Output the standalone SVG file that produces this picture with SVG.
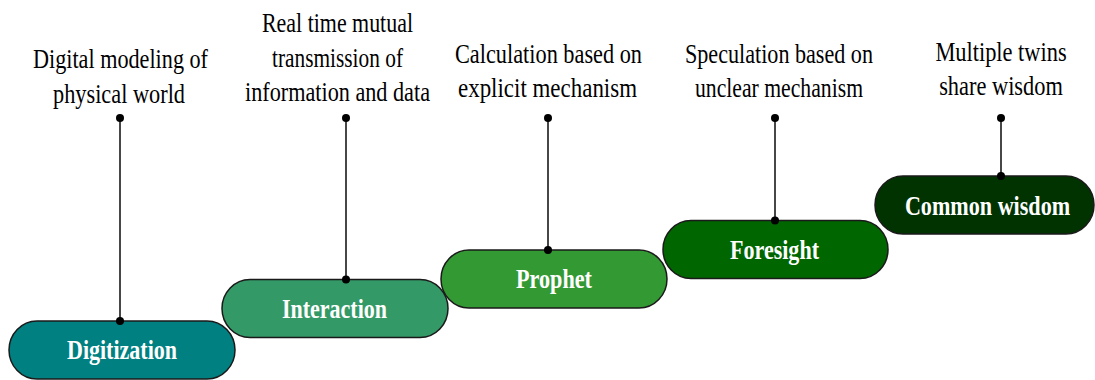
<svg xmlns="http://www.w3.org/2000/svg" width="1095" height="380" viewBox="0 0 1095 380">
  <style>
    text { font-family: "Liberation Serif", "Times New Roman", serif; font-size: 28px; text-anchor: middle; }
    .cap { fill: #000; }
    .lbl { font-weight: bold; fill: #fff; }
    .pill { stroke: #1a1a1a; stroke-width: 1.5; }
    .link { stroke: #333; stroke-width: 1.8; fill: none; }
    .dot { fill: #000; }
  </style>

  <!-- captions above each stage -->
  <g id="captions">
    <text class="cap" x="120.5" y="68" textLength="175" lengthAdjust="spacingAndGlyphs">Digital modeling of</text>
    <text class="cap" x="119" y="103" textLength="132" lengthAdjust="spacingAndGlyphs">physical world</text>

    <text class="cap" x="337.5" y="32" textLength="151" lengthAdjust="spacingAndGlyphs">Real time mutual</text>
    <text class="cap" x="337.5" y="67" textLength="131" lengthAdjust="spacingAndGlyphs">transmission of</text>
    <text class="cap" x="337.5" y="101" textLength="185" lengthAdjust="spacingAndGlyphs">information and data</text>

    <text class="cap" x="548.5" y="63" textLength="187" lengthAdjust="spacingAndGlyphs">Calculation based on</text>
    <text class="cap" x="547.5" y="97" textLength="179" lengthAdjust="spacingAndGlyphs">explicit mechanism</text>

    <text class="cap" x="779" y="63" textLength="188" lengthAdjust="spacingAndGlyphs">Speculation based on</text>
    <text class="cap" x="779" y="97" textLength="168" lengthAdjust="spacingAndGlyphs">unclear mechanism</text>

    <!-- narrowed with a horizontal scale so the lines stay clear of the right edge -->
    <text class="cap" transform="translate(1001 61) scale(0.8 1)">Multiple twins</text>
    <text class="cap" transform="translate(1001 95) scale(0.8 1)">share wisdom</text>
  </g>

  <!-- stage pills, later stages drawn on top -->
  <g id="node-digitization">
    <rect class="pill" x="9" y="321" width="226" height="58" rx="28" ry="29" fill="#008080"/>
    <text class="lbl" x="122" y="359" textLength="110" lengthAdjust="spacingAndGlyphs">Digitization</text>
  </g>
  <g id="node-interaction">
    <rect class="pill" x="222" y="279.5" width="226" height="58" rx="28" ry="29" fill="#339966"/>
    <text class="lbl" x="334.5" y="317.5" textLength="105" lengthAdjust="spacingAndGlyphs">Interaction</text>
  </g>
  <g id="node-prophet">
    <rect class="pill" x="441" y="250" width="226" height="58" rx="28" ry="29" fill="#339933"/>
    <text class="lbl" x="554" y="288" textLength="76" lengthAdjust="spacingAndGlyphs">Prophet</text>
  </g>
  <g id="node-foresight">
    <rect class="pill" x="663" y="220.5" width="225" height="58" rx="28" ry="29" fill="#006600"/>
    <text class="lbl" x="774.5" y="258.5" textLength="89" lengthAdjust="spacingAndGlyphs">Foresight</text>
  </g>
  <g id="node-common-wisdom">
    <rect class="pill" x="875" y="176" width="219" height="58" rx="28" ry="29" fill="#003300"/>
    <text class="lbl" transform="translate(987.5 214.5) scale(0.79 1)">Common wisdom</text>
  </g>

  <!-- leader lines from captions down to pills -->
  <g id="connectors">
    <line class="link" x1="120" y1="118" x2="120" y2="321"/>
    <circle class="dot" cx="120" cy="118" r="4"/>
    <circle class="dot" cx="120" cy="321" r="4"/>

    <line class="link" x1="346" y1="118" x2="346" y2="279.5"/>
    <circle class="dot" cx="346" cy="118" r="4"/>
    <circle class="dot" cx="346" cy="279.5" r="4"/>

    <line class="link" x1="548" y1="118" x2="548" y2="250"/>
    <circle class="dot" cx="548" cy="118" r="4"/>
    <circle class="dot" cx="548" cy="250" r="4"/>

    <line class="link" x1="775" y1="118" x2="775" y2="220.5"/>
    <circle class="dot" cx="775" cy="118" r="4"/>
    <circle class="dot" cx="775" cy="220.5" r="4"/>

    <line class="link" x1="1001" y1="118" x2="1001" y2="176"/>
    <circle class="dot" cx="1001" cy="118" r="4"/>
    <circle class="dot" cx="1001" cy="176" r="4"/>
  </g>
</svg>
